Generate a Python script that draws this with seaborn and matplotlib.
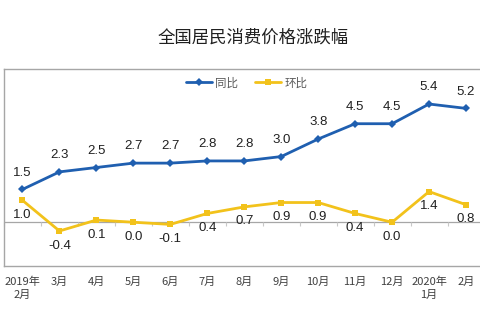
import numpy as np
import pandas as pd
import matplotlib
matplotlib.use("Agg")
import matplotlib.pyplot as plt
import seaborn as sns

months = ["2019年\n2月", "3月", "4月", "5月", "6月", "7月", "8月", "9月",
          "10月", "11月", "12月", "2020年\n1月", "2月"]
yoy = [1.5, 2.3, 2.5, 2.7, 2.7, 2.8, 2.8, 3.0, 3.8, 4.5, 4.5, 5.4, 5.2]
mom = [1.0, -0.4, 0.1, 0.0, -0.1, 0.4, 0.7, 0.9, 0.9, 0.4, 0.0, 1.4, 0.8]
series_names = ["同比", "环比"]

sns.set_style("white")
plt.rcParams["font.family"] = ["Noto Sans CJK SC", "DejaVu Sans"]

BLUE = "#1F5FB0"
YELLOW = "#F2C21B"
GREY = "#A6A6A6"

fig = plt.figure(figsize=(4.8, 3.25), dpi=100)
ax = fig.add_axes([4 / 480, 59 / 325, 480.5 / 480, 197 / 325])

x = np.arange(len(months))
df = pd.DataFrame({"x": np.concatenate([x, x]),
                   "v": yoy + mom,
                   "s": [series_names[0]] * len(x) + [series_names[1]] * len(x)})

sns.lineplot(data=df[df.s == series_names[0]], x="x", y="v", ax=ax, color=BLUE,
             lw=2.0, marker="D", markersize=4.5, markeredgewidth=0,
             label=series_names[0])
sns.lineplot(data=df[df.s == series_names[1]], x="x", y="v", ax=ax, color=YELLOW,
             lw=2.0, marker="s", markersize=3.8, markeredgewidth=0,
             label=series_names[1])

ax.set_xlim(-0.5, len(months) - 0.5)
ax.set_ylim(-2, 7)
ax.axhline(0, color=GREY, lw=0.9, zorder=0)

# tick marks along the zero line between categories
sec = ax.secondary_xaxis(2 / 9)
sec.set_xticks(np.arange(-0.5, len(months), 1.0))
sec.set_xticklabels([])
sec.tick_params(axis="x", length=3, color="#C8C8C8", width=0.8, direction="out")
sec.spines["bottom"].set_visible(False)

ax.set_xticks(x)
ax.set_xticklabels(months, fontsize=8, color="#404040", linespacing=1.3)
ax.tick_params(axis="x", length=0, pad=8)
ax.set_yticks(np.arange(-2, 8, 1))
ax.set_yticklabels([])
ax.tick_params(axis="y", length=3, direction="in", color="#E0E0E0")
ax.set_xlabel("")
ax.set_ylabel("")

for sp in ax.spines.values():
    sp.set_color(GREY)
    sp.set_linewidth(1.0)

for xi, v in zip(x, yoy):
    ax.annotate(f"{v:.1f}", (xi, v), xytext=(0, 12), textcoords="offset points",
                ha="center", va="center", fontsize=9.5, color="#202020",
                family=["Liberation Sans", "DejaVu Sans"])
for xi, v in zip(x, mom):
    ax.annotate(f"{v:.1f}", (xi, v), xytext=(0, -10.5), textcoords="offset points",
                ha="center", va="center", fontsize=9.5, color="#202020",
                family=["Liberation Sans", "DejaVu Sans"])

ax.legend(loc="center", bbox_to_anchor=(0.505, 0.929), ncol=2, frameon=False,
          fontsize=8.3, handlelength=2.2, columnspacing=1.5, handletextpad=0.3,
          labelcolor="#595959")

fig.text(253 / 480, 1 - 38 / 325, "全国居民消费价格涨跌幅", ha="center", va="center",
         fontsize=12.5, color="#202020")

fig.savefig("out.png", dpi=100)
